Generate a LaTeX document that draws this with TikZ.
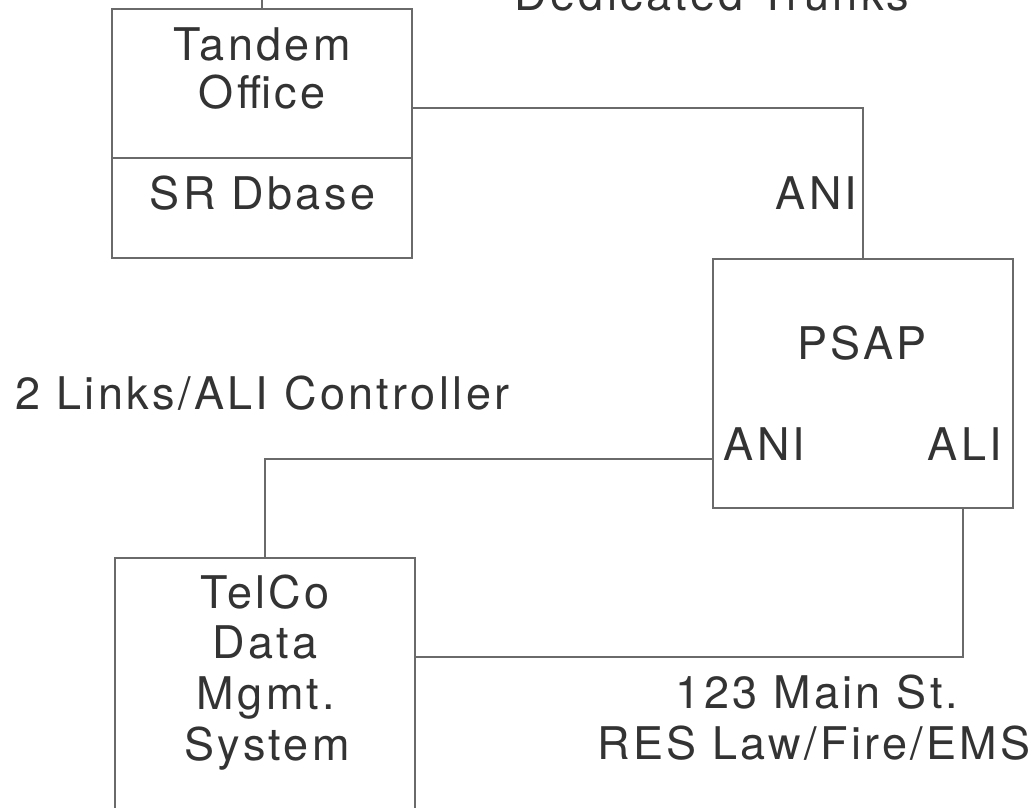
\documentclass[tikz,border=0pt]{standalone}
\usepackage{fontspec}
\newfontfamily\lblfont[LetterSpace=7.5]{TeX Gyre Heros}
\definecolor{txtc}{HTML}{333333}
\definecolor{linec}{HTML}{6A6A6A}
\begin{document}
\begin{tikzpicture}[x=1pt,y=-1pt,
  lbl/.style={anchor=base,inner sep=0pt,text=txtc,font=\lblfont\fontsize{45}{50}\selectfont},
  box/.style={draw=linec,line width=1.2pt,rectangle,inner sep=0pt},
  wire/.style={draw=linec,line width=1.2pt}]
\useasboundingbox (0,0) rectangle (1036,807);
\fill[white] (0,0) rectangle (1036,807);
\clip (0,0) rectangle (1036,807);

% boxes
\node[box,minimum width=300pt,minimum height=249pt] (tandem) at (262,133.5) {};
\node[box,minimum width=300pt,minimum height=249pt] (psap) at (863,383.5) {};
\node[box,minimum width=300pt,minimum height=302pt] (telco) at (265,709) {};
\coordinate (topend) at (262,-2);

% divider in tandem box
\draw[wire] ([yshift=-24.5pt]tandem.west) -- ([yshift=-24.5pt]tandem.east);

% connectors
\draw[wire] (tandem.north) -- (topend);
\draw[wire] ([yshift=25.5pt]tandem.east) -| (psap.north);
\draw[wire] ([yshift=-75.5pt]psap.west) -| (telco.north);
\draw[wire] ([xshift=100pt]psap.south) |- ([yshift=52pt]telco.east);

% labels
\node[lbl] (trunks) at (712,10) {Dedicated Trunks};
\node[lbl] (tandem1) at (262,60) {Tandem};
\node[lbl] (tandem2) at (262,108) {Office};
\node[lbl] (srdb) at (262.5,209) {SR Dbase};
\node[lbl] (anitop) at (816.5,209) {ANI};
\node[lbl] (psaplbl) at (862,359) {PSAP};
\node[lbl] (anil) at (764.5,460) {ANI};
\node[lbl] (alil) at (965,460) {ALI};
\node[lbl] (links) at (262.5,409) {2 Links/ALI Controller};
\node[lbl] (telco1) at (265,608) {TelCo};
\node[lbl] (telco2) at (265,658) {Data};
\node[lbl] (telco3) at (266,709) {Mgmt.};
\node[lbl] (telco4) at (267,760) {System};
\node[lbl] (addr1) at (817,708) {123 Main St.};
\node[lbl] (addr2) at (814,759) {RES Law/Fire/EMS};
\end{tikzpicture}
\end{document}
